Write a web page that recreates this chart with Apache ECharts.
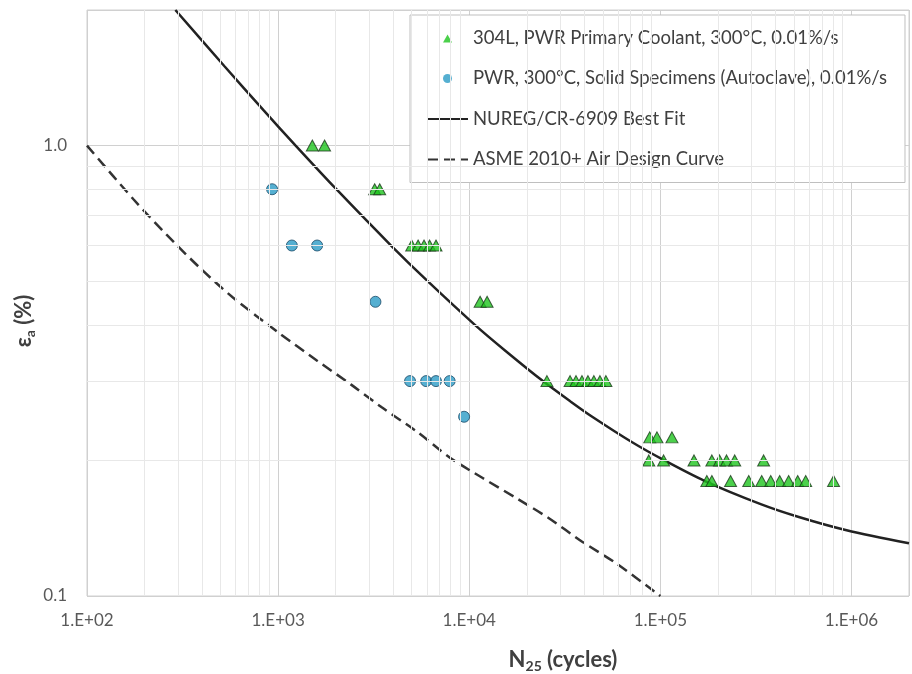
<!DOCTYPE html>
<html>
<head>
<meta charset="utf-8">
<script src="https://cdn.jsdelivr.net/npm/echarts@6/dist/echarts.min.js"></script>
<style>
  html, body { margin: 0; padding: 0; background: #fff; }
  #chart { width: 912px; height: 674px; }
</style>
</head>
<body>
<div id="chart"></div>
<script>
// 304L, PWR primary coolant (triangles)
const tri304N = [1510, 1750, 3200, 3400, 5000, 5400, 5800, 6200, 6700, 11400, 12400,
  25500, 33700, 36200, 38900, 41800, 44900, 48300, 51900,
  88000, 96000, 115000,
  87000, 104000, 150000, 186000, 204000, 222000, 245000, 347000,
  175000, 186000, 233000, 290000, 339000, 378000, 421000, 469000, 523000, 576000, 806000]
const tri304E = [1.0, 1.0, 0.8, 0.8, 0.6, 0.6, 0.6, 0.6, 0.6, 0.45, 0.45,
  0.3, 0.3, 0.3, 0.3, 0.3, 0.3, 0.3, 0.3,
  0.225, 0.225, 0.225,
  0.2, 0.2, 0.2, 0.2, 0.2, 0.2, 0.2, 0.2,
  0.18, 0.18, 0.18, 0.18, 0.18, 0.18, 0.18, 0.18, 0.18, 0.18, 0.18]

// PWR solid specimens (circles)
const pwrN = [930, 1180, 1600, 3230, 4900, 5950, 6700, 7900, 9400]
const pwrE = [0.8, 0.6, 0.6, 0.45, 0.3, 0.3, 0.3, 0.3, 0.25]

// NUREG/CR-6909 best fit
const fitN = [290, 524, 836, 1235, 2017, 3900, 6060, 10700, 15500, 24300, 34000, 44000, 70500, 105000, 171000, 335000, 525000, 943000, 2000000]
const fitE = [2.0, 1.5, 1.2, 1.0, 0.8, 0.6, 0.5, 0.4, 0.35, 0.3, 0.27, 0.25, 0.22, 0.2, 0.18, 0.16, 0.15, 0.14, 0.131]

// ASME 2010+ air design curve
const asmeN = [100, 175, 260, 390, 580, 1000, 1600, 2400, 3500, 5300, 7900, 11700, 17600, 26000, 39000, 59000, 100000]
const asmeE = [1.0, 0.76, 0.635, 0.535, 0.46, 0.385, 0.333, 0.295, 0.262, 0.232, 0.203, 0.183, 0.165, 0.149, 0.132, 0.118, 0.1]

// minor grid values
const minorX = [200, 300, 400, 500, 600, 700, 800, 900,
  2000, 3000, 4000, 5000, 6000, 7000, 8000, 9000,
  20000, 30000, 40000, 50000, 60000, 70000, 80000, 90000,
  200000, 300000, 400000, 500000, 600000, 700000, 800000, 900000]
const minorY = [0.2, 0.3, 0.4, 0.5, 0.6, 0.7, 0.8, 0.9]

const legendNames = [
  '304L, PWR Primary Coolant, 300°C, 0.01%/s',
  'PWR, 300°C, Solid Specimens (Autoclave), 0.01%/s',
  'NUREG/CR-6909 Best Fit',
  'ASME 2010+ Air Design Curve'
]

const zip = (xs, ys) => xs.map((x, i) => [x, ys[i]])
const font = 'Lato'

function isDecade(v) {
  const e = Math.log10(v)
  return Math.abs(e - Math.round(e)) < 1e-6
}

const nameRich = {
  b: { fontFamily: font, fontWeight: 'bold', fontSize: 22, fill: '#404040', lineHeight: 26 },
  s: { fontFamily: font, fontWeight: 'bold', fontSize: 14, fill: '#404040', lineHeight: 16, verticalAlign: 'bottom' }
}

const chart = echarts.init(document.getElementById('chart'))

chart.setOption({
  animation: false,
  backgroundColor: '#ffffff',
  grid: {
    left: 87,
    right: 2,
    top: 10,
    bottom: 78,
    show: true,
    borderColor: '#d0d0d0',
    borderWidth: 1
  },
  legend: {
    orient: 'vertical',
    left: 410,
    top: 15,
    padding: [13, 18, 13, 16],
    itemGap: 20.5,
    itemWidth: 41,
    itemHeight: 9,
    backgroundColor: '#ffffff',
    borderColor: '#bfbfbf',
    borderWidth: 1,
    textStyle: {
      fontFamily: font,
      fontSize: 18.5,
      color: '#404040',
      lineHeight: 20
    },
    itemStyle: {
      borderWidth: 0
    },
    data: [
      // small triangle centred in the 41x9 icon box
      { name: legendNames[0], icon: 'path://M0,0M41,9M16,9L20.5,1L25,9Z' },
      legendNames[1],
      legendNames[2],
      legendNames[3]
    ]
  },
  xAxis: {
    type: 'log',
    logBase: 10,
    min: 100,
    max: 2000000,
    axisLine: { show: false },
    axisTick: { show: false },
    splitLine: { show: true, lineStyle: { color: '#d0d0d0', width: 1 } },
    axisLabel: {
      fontFamily: font,
      fontSize: 17,
      color: '#595959',
      margin: 16,
      formatter(v) {
        if (!isDecade(v)) return ''
        const e = Math.round(Math.log10(v))
        return '1.E+' + (e < 10 ? '0' : '') + e
      }
    }
  },
  yAxis: {
    type: 'log',
    logBase: 10,
    min: 0.1,
    max: 2,
    axisLine: { show: false },
    axisTick: { show: false },
    splitLine: { show: true, lineStyle: { color: '#d0d0d0', width: 1 } },
    axisLabel: {
      fontFamily: font,
      fontSize: 17,
      color: '#595959',
      margin: 20,
      formatter(v) {
        return isDecade(v) ? v.toFixed(1) : ''
      }
    }
  },
  graphic: [
    {
      type: 'text',
      x: 563,
      y: 660,
      silent: true,
      style: {
        text: '{b|N}{s|25}{b| (cycles)}',
        align: 'center',
        verticalAlign: 'middle',
        rich: nameRich
      }
    },
    {
      type: 'text',
      x: 24,
      y: 321,
      rotation: Math.PI / 2,
      silent: true,
      style: {
        text: '{b|ε}{s|a}{b| (%)}',
        align: 'center',
        verticalAlign: 'middle',
        rich: nameRich
      }
    }
  ],
  series: [
    {
      name: 'minor grid',
      type: 'line',
      data: [],
      z: 1,
      silent: true,
      markLine: {
        silent: true,
        symbol: ['none', 'none'],
        label: { show: false },
        lineStyle: { color: '#e8e8e8', width: 1, type: 'solid' },
        emphasis: { disabled: true },
        data: [
          ...minorX.map(v => ({ xAxis: v })),
          ...minorY.map(v => ({ yAxis: v }))
        ]
      }
    },
    {
      name: legendNames[3],
      type: 'line',
      data: zip(asmeN, asmeE),
      smooth: 0.3,
      symbol: 'none',
      z: 3,
      itemStyle: { color: 'rgba(0,0,0,0)' },
      lineStyle: { color: '#333333', width: 2.5, type: [11, 6] }
    },
    {
      name: legendNames[2],
      type: 'line',
      data: zip(fitN, fitE),
      smooth: 0.3,
      symbol: 'none',
      z: 3,
      itemStyle: { color: 'rgba(0,0,0,0)' },
      lineStyle: { color: '#222222', width: 2.5 }
    },
    {
      name: legendNames[1],
      type: 'scatter',
      data: zip(pwrN, pwrE),
      symbol: 'circle',
      symbolSize: 11,
      z: 4,
      itemStyle: { color: '#2a9bc6', borderColor: '#1c4a66', borderWidth: 1 }
    },
    {
      name: legendNames[0],
      type: 'scatter',
      data: zip(tri304N, tri304E),
      symbol: 'triangle',
      symbolSize: [12, 11],
      z: 4,
      itemStyle: { color: '#1ec41e', borderColor: '#1b3b1b', borderWidth: 1 }
    }
  ]
})
</script>
</body>
</html>
